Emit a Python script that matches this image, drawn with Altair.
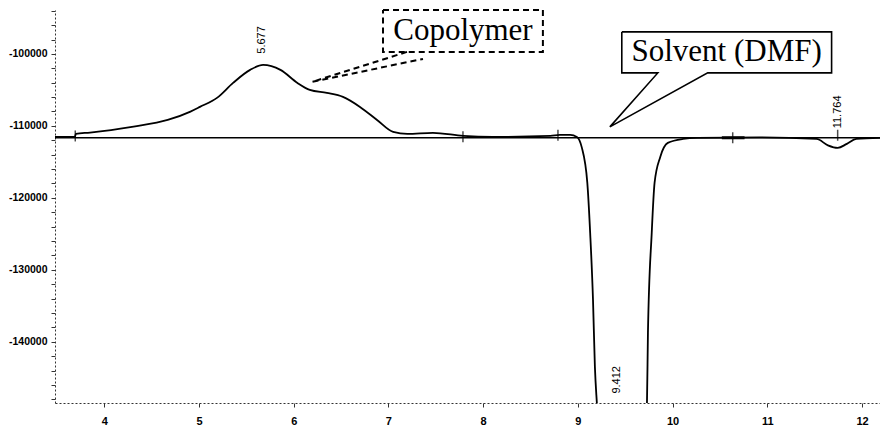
import altair as alt
import pandas as pd

# GPC trace: retention time (min) and detector response
time_min = [3.48, 3.69, 3.70, 3.85, 4.31, 4.67, 4.91, 5.01, 5.19, 5.36, 5.54,
            5.677, 5.86, 6.04, 6.17, 6.35, 6.52, 6.70, 6.88, 7.05, 7.20, 7.47,
            7.79, 8.10, 8.71, 8.81, 8.92, 8.99, 9.04, 9.10, 9.13, 9.16, 9.18,
            9.20, 9.23, 9.412, 9.70, 9.73, 9.74, 9.78, 9.81, 9.87, 9.95, 10.11,
            10.26, 10.92, 11.52, 11.64, 11.743, 11.84, 11.94, 12.19]
response = [-111530, -111530, -111100, -110930, -110100, -109170, -108010,
            -107360, -106110, -104030, -102220, -101530, -102220, -104030,
            -105000, -105420, -105970, -107360, -109170, -110830, -111110,
            -110970, -111390, -111530, -111390, -111250, -111250, -111530,
            -112920, -117920, -124860, -134170, -143480, -148340, -153600,
            -160000, -153600, -148340, -138750, -124860, -117920, -114310,
            -112360, -111810, -111670, -111600, -111810, -112700, -113060,
            -112500, -111810, -111670]

# flat reference baseline
baseline_t = [3.48, 12.19]
baseline_v = [-111650, -111650]

# integration markers along the baseline
marker_t = [3.694, 7.787, 8.79, 10.635, 11.743]
marker_v = [-111400, -111500, -111300, -111650, -111300]
segment_t = [10.52, 10.76]

# retention-time labels of the peaks
peak_text = ["5.677", "9.412", "11.764"]
peak_t = [5.667, 9.411, 11.743]
peak_v = [-98060, -145280, -108060]

# callout for the copolymer (dashed box + dashed pointer)
copo_box_t = [6.943, 8.631, 8.631, 6.943, 6.943]
copo_box_v = [-93890, -93890, -99720, -99720, -93890]
copo_ptr_t = [7.196, 6.194, 7.365]
copo_ptr_v = [-99720, -103890, -100695]
copo_label = "Copolymer"
copo_label_t = 7.787
copo_label_v = -96805

# speech-bubble callout for the solvent peak
solv_t = [9.464, 11.679, 11.679, 10.371, 9.338, 9.844, 9.464, 9.464]
solv_v = [-96944, -96944, -102640, -102640, -110140, -102640, -102640, -96944]
solv_label = "Solvent (DMF)"
solv_label_t = 10.571
solv_label_v = -99750

x_scale = alt.Scale(domain=[3.48, 12.19], nice=False, zero=False)
y_scale = alt.Scale(domain=[-148500, -93900], nice=False, zero=False)

axis_font = "Liberation Sans"

x_axis = alt.Axis(
    values=list(range(4, 13)), format="d", title=None, grid=False,
    labelFont=axis_font, labelFontSize=11, labelFontWeight="bold",
    labelColor="black", labelPadding=8, tickSize=4, tickColor="#333",
    domainColor="#333", domainDash=[2, 2], domainWidth=1,
)
y_axis = alt.Axis(
    values=list(range(-148000, -93999, 2000)),
    labelExpr="datum.value % 10000 === 0 ? '-' + abs(datum.value) : ''",
    title=None, grid=False,
    labelFont=axis_font, labelFontSize=10.5, labelFontWeight="bold",
    labelColor="black", labelPadding=4, tickSize=4, tickColor="#333",
    domainColor="#333", domainDash=[2, 2], domainWidth=1,
)

X = alt.X("t:Q", scale=x_scale, axis=x_axis)
Y = alt.Y("v:Q", scale=y_scale, axis=y_axis)

sig_df = pd.DataFrame({"t": time_min, "v": response})
signal = alt.Chart(sig_df).mark_line(
    color="black", strokeWidth=1.8, interpolate="monotone", clip=True
).encode(x=X, y=Y)

base_df = pd.DataFrame({"t": baseline_t, "v": baseline_v})
base = alt.Chart(base_df).mark_line(color="black", strokeWidth=1.5).encode(x=X, y=Y)

mk_df = pd.DataFrame({"t": marker_t, "v": marker_v})
markers = alt.Chart(mk_df).mark_tick(
    orient="vertical", size=11, thickness=1.5, color="black"
).encode(x=X, y=Y)

seg_df = pd.DataFrame({"t": segment_t, "v": [-111650, -111650]})
segment = alt.Chart(seg_df).mark_line(color="black", strokeWidth=3).encode(x=X, y=Y)

pk_df = pd.DataFrame({"label": peak_text, "t": peak_t, "v": peak_v})
peak_labels = alt.Chart(pk_df).mark_text(
    angle=270, fontSize=11, font="Liberation Sans", color="black",
    align="center", baseline="middle",
).encode(x=X, y=Y, text="label:N")

copo_df = pd.DataFrame({"t": copo_box_t, "v": copo_box_v,
                        "i": list(range(len(copo_box_t)))})
copo_box = alt.Chart(copo_df).mark_line(
    color="black", strokeWidth=2, strokeDash=[6, 4]
).encode(x=X, y=Y, order="i:Q")

ptr_df = pd.DataFrame({"t": copo_ptr_t, "v": copo_ptr_v,
                       "i": list(range(len(copo_ptr_t)))})
copo_ptr = alt.Chart(ptr_df).mark_line(
    color="black", strokeWidth=2, strokeDash=[6, 4]
).encode(x=X, y=Y, order="i:Q")

copo_txt = alt.Chart(pd.DataFrame({"t": [copo_label_t], "v": [copo_label_v],
                                   "label": [copo_label]})).mark_text(
    font="Liberation Serif", fontSize=31, color="black",
    align="center", baseline="middle",
).encode(x=X, y=Y, text="label:N")

solv_df = pd.DataFrame({"t": solv_t, "v": solv_v, "i": list(range(len(solv_t)))})
solv_bubble = alt.Chart(solv_df).mark_line(color="black", strokeWidth=1.6).encode(
    x=X, y=Y, order="i:Q")

solv_txt = alt.Chart(pd.DataFrame({"t": [solv_label_t], "v": [solv_label_v],
                                   "label": [solv_label]})).mark_text(
    font="Liberation Serif", fontSize=31, color="black",
    align="center", baseline="middle",
).encode(x=X, y=Y, text="label:N")

chart = alt.layer(
    signal, base, segment, markers, peak_labels,
    copo_box, copo_ptr, copo_txt, solv_bubble, solv_txt,
).properties(
    width=825, height=393,
    autosize=alt.AutoSizeParams(type="none"),
    padding={"left": 55, "top": 10, "right": 0, "bottom": 29},
    background="white",
).configure_view(stroke=None)

chart.save("out.html", embed_options={"renderer": "svg", "actions": False})
